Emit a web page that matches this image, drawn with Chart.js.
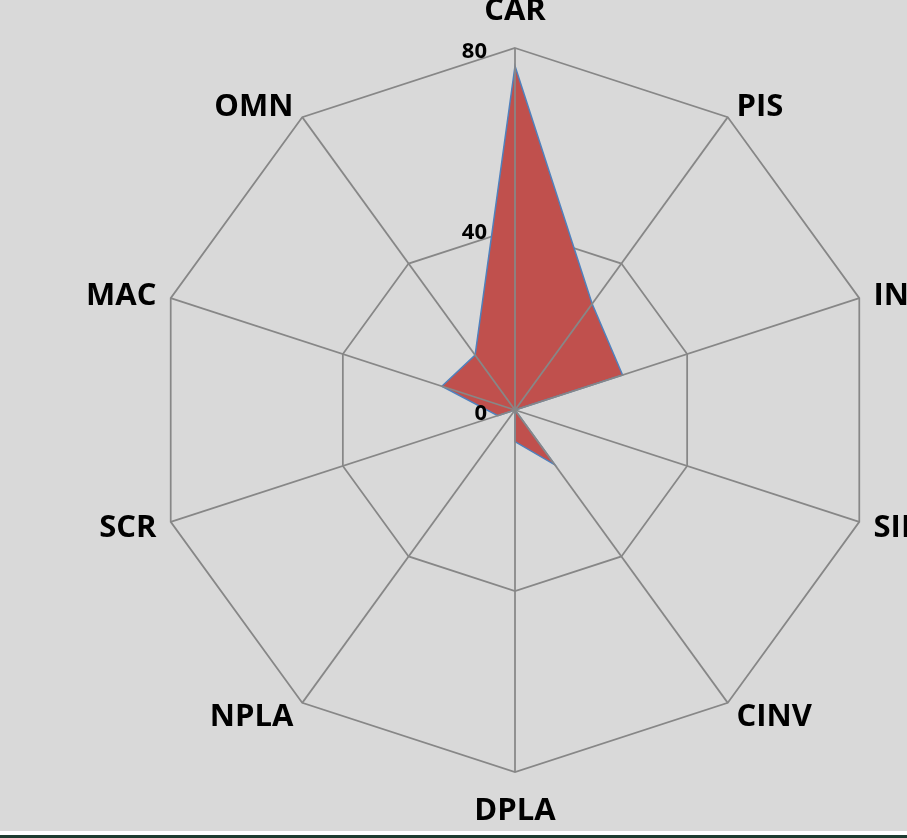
<!DOCTYPE html>
<html lang="en">
<head>
    <meta charset="UTF-8">
    <title>Radar</title>
    <script src="https://cdn.jsdelivr.net/npm/chart.js"></script>
    <style>
        body { margin: 0; background: #ffffff; }
        #wrap { width: 907px; height: 831px; background: #d9d9d9; }
        #bottomLine { width: 907px; height: 3px; margin-top: 4px; background: #1d3b30; }
    </style>
</head>
<body>
<div id="wrap"><canvas id="myChart"></canvas></div>
<div id="bottomLine"></div>

<script>
    const categories = ['CAR', 'PIS', 'INS', 'SIN', 'CINV', 'DPLA', 'NPLA', 'SCR', 'MAC', 'OMN'];
    const values = [76, 29, 25, 0, 15, 7, 0, 4, 17, 15];
    const tickValues = [0, 40, 80];

    // tick numbers and category names, drawn from the r scale
    const labelPlugin = {
        id: 'labelPlugin',
        afterDraw(chart) {
            const scale = chart.scales.r;
            const ctx = chart.ctx;
            ctx.save();
            ctx.fillStyle = '#000000';
            ctx.textBaseline = 'alphabetic';

            ctx.font = 'bold 22px "Open Sans"';
            ctx.textAlign = 'right';
            tickValues.forEach(v => {
                const y = scale.yCenter - scale.getDistanceFromCenterForValue(v);
                ctx.fillText(String(v), scale.xCenter - 28, y + 10);
            });

            ctx.font = 'bold 31px "Open Sans"';
            categories.forEach((name, i) => {
                const p = scale.getPointPosition(i, scale.drawingArea + 15);
                const a = p.angle + Math.PI / 2;
                const s = Math.sin(a), c = Math.cos(a);
                let y = p.y;
                if (Math.abs(s) < 0.1) {
                    ctx.textAlign = 'center';
                    y += c > 0 ? -24 : 21.5;
                } else {
                    ctx.textAlign = s > 0 ? 'left' : 'right';
                }
                ctx.fillText(name, p.x, y + 11);
            });
            ctx.restore();
        }
    };

    const ctx = document.getElementById('myChart').getContext('2d');

    new Chart(ctx, {
        type: 'radar',
        data: {
            labels: categories,
            datasets: [{
                data: values,
                fill: true,
                backgroundColor: '#c0504d',
                borderColor: '#4f81bd',
                borderWidth: 1.5,
                pointRadius: 0,
                tension: 0
            }]
        },
        options: {
            responsive: true,
            maintainAspectRatio: false,
            animation: false,
            layout: { padding: { left: 153, top: 48, right: 30, bottom: 59 } },
            plugins: { legend: { display: false }, tooltip: { enabled: false } },
            scales: {
                // spokes, drawn over the filled area
                r: {
                    min: 0,
                    max: 80,
                    ticks: { display: false, stepSize: 40 },
                    pointLabels: { display: false },
                    grid: { display: false, z: 1 },
                    angleLines: { display: true, color: '#878787', lineWidth: 1.75 }
                },
                // polygons, drawn under the filled area
                r2: {
                    type: 'radialLinear',
                    min: 0,
                    max: 80,
                    ticks: { display: false, stepSize: 40 },
                    pointLabels: { display: false },
                    grid: { display: true, z: -1, color: '#878787', lineWidth: 1.75 },
                    angleLines: { display: false }
                }
            }
        },
        plugins: [labelPlugin]
    });
</script>
</body>
</html>
